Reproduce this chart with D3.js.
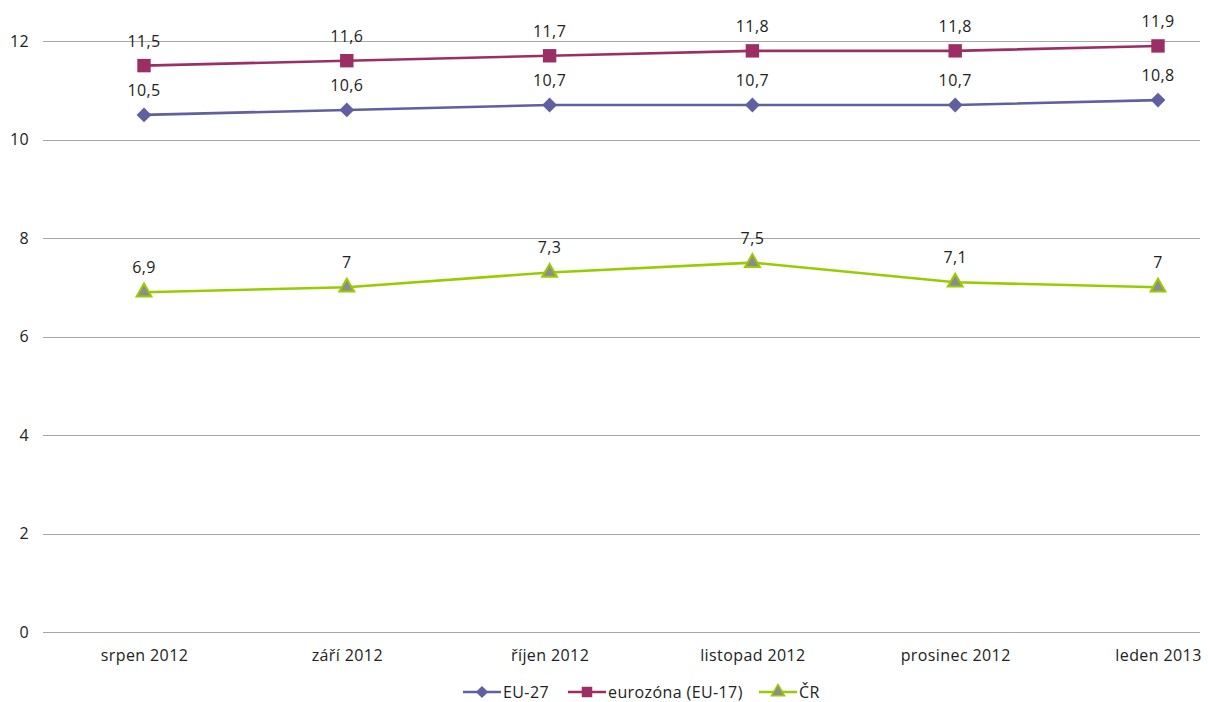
<!DOCTYPE html>
<html>
<head>
  <meta charset="utf-8">
  <style>
    body { margin: 0; background: #fff; }
    svg text { font-family: "Open Sans", "Noto Sans", sans-serif; font-size: 16px; fill: #222; letter-spacing: 0.4px; }
    .grid line { stroke: #a6a6a6; stroke-width: 1; shape-rendering: crispEdges; }
  </style>
  <script src="https://d3js.org/d3.v7.min.js"></script>
</head>
<body>
<script>
  // categories and series
  var months = ["srpen 2012", "září 2012", "říjen 2012", "listopad 2012", "prosinec 2012", "leden 2013"];
  var eu27 = [10.5, 10.6, 10.7, 10.7, 10.7, 10.8];
  var euro17 = [11.5, 11.6, 11.7, 11.8, 11.8, 11.9];
  var cr = [6.9, 7, 7.3, 7.5, 7.1, 7];
  var yTicks = [0, 2, 4, 6, 8, 10, 12];

  var series = [
    { name: "EU-27", values: eu27, color: "#5f5fa1", marker: "diamond", fill: "#5f5fa1" },
    { name: "eurozóna (EU-17)", values: euro17, color: "#9b2f65", marker: "square", fill: "#9b2f65" },
    { name: "ČR", values: cr, color: "#99cc00", marker: "triangle", fill: "#8c8c8c" }
  ];

  var W = 1208, H = 702;
  var gridLeft = 43, gridRight = 1200;

  var x = d3.scalePoint().domain(months).range([144, 1158]);
  var y = d3.scaleLinear().domain([0, 12]).range([632, 41]);

  var svg = d3.select("body").append("svg")
    .attr("width", W).attr("height", H);

  // gridlines
  svg.append("g").attr("class", "grid")
    .selectAll("line").data(yTicks).enter().append("line")
    .attr("x1", gridLeft).attr("x2", gridRight)
    .attr("y1", function(d) { return Math.round(y(d)) + 0.5; })
    .attr("y2", function(d) { return Math.round(y(d)) + 0.5; });

  // y axis labels
  var yAxis = d3.axisLeft(y).tickValues(yTicks).tickSize(0).tickPadding(0);
  var ya = svg.append("g").attr("transform", "translate(29,0)").call(yAxis);
  ya.select(".domain").remove();
  ya.selectAll("text").style("font-size", "16px").style("font-family", null).attr("fill", "#222");

  // x axis labels
  var xAxis = d3.axisBottom(x).tickSize(0).tickPadding(0);
  var xa = svg.append("g").attr("transform", "translate(0,650)").call(xAxis);
  xa.select(".domain").remove();
  xa.selectAll("text").style("font-size", "16px").style("font-family", null).attr("fill", "#222");

  // diamond = square turned 45 degrees
  function markerPath(type, size) {
    if (type == "triangle") return d3.symbol().type(d3.symbolTriangle).size(size)();
    return d3.symbol().type(d3.symbolSquare).size(size)();
  }
  function markerRot(type) { return type == "diamond" ? " rotate(45)" : ""; }

  var line = d3.line()
    .x(function(d, i) { return x(months[i]); })
    .y(function(d) { return y(d); });

  series.forEach(function(s) {
    var g = svg.append("g");
    g.append("path")
      .attr("d", line(s.values))
      .attr("fill", "none")
      .attr("stroke", s.color)
      .attr("stroke-width", 2.6);

    var sz = s.marker == "square" ? 180 : s.marker == "diamond" ? 110 : 95;
    g.selectAll(".pt").data(s.values).enter().append("path")
      .attr("class", "pt")
      .attr("transform", function(d, i) { return "translate(" + x(months[i]) + "," + y(d) + ")" + markerRot(s.marker); })
      .attr("d", markerPath(s.marker, sz))
      .attr("fill", s.fill)
      .attr("stroke", s.marker == "triangle" ? s.color : "none")
      .attr("stroke-width", 2);

    g.selectAll(".lbl").data(s.values).enter().append("text")
      .attr("class", "lbl")
      .attr("x", function(d, i) { return x(months[i]); })
      .attr("y", function(d) { return y(d) - 19; })
      .attr("text-anchor", "middle")
      .text(function(d) { return String(d).replace(".", ","); });
  });

  // legend
  var legendX = [463, 568, 759];
  var leg = svg.append("g").attr("transform", "translate(0,692)");
  series.forEach(function(s, i) {
    var lg = leg.append("g").attr("transform", "translate(" + legendX[i] + ",0)");
    lg.append("line").attr("x1", 0).attr("x2", 38).attr("y1", 0).attr("y2", 0)
      .attr("stroke", s.color).attr("stroke-width", 2.5);
    lg.append("path").attr("transform", "translate(19,0)" + markerRot(s.marker))
      .attr("d", markerPath(s.marker, s.marker == "square" ? 110 : 75))
      .attr("fill", s.fill)
      .attr("stroke", s.marker == "triangle" ? s.color : "none")
      .attr("stroke-width", 1.5);
    lg.append("text").attr("x", 40).attr("y", 6).text(s.name);
  });
</script>
</body>
</html>
